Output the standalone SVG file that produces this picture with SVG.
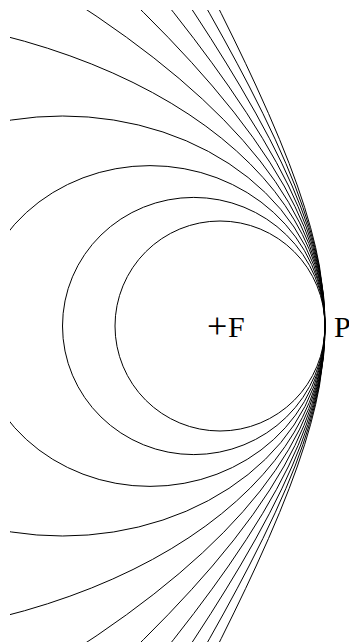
<svg xmlns="http://www.w3.org/2000/svg" width="349" height="643" viewBox="0 0 349 643">
<style>
.c{fill:none;stroke:#000;stroke-width:1}
.t{font-family:"Liberation Serif","Times New Roman",serif;font-size:30px;fill:#000}
</style>
<defs><clipPath id="clip"><rect x="10" y="10" width="339" height="632"/></clipPath></defs>
<rect width="349" height="643" fill="#fff"/>
<g id="conics" clip-path="url(#clip)">
<circle id="e00" class="c" cx="220" cy="326" r="105"/>
<ellipse id="e02" class="c" cx="193.75" cy="326" rx="131.25" ry="128.6"/>
<ellipse id="e04" class="c" cx="150" cy="326" rx="175" ry="160.39"/>
<ellipse id="e06" class="c" cx="62.5" cy="326" rx="262.5" ry="210"/>
<ellipse id="e08" class="c" cx="-200" cy="326" rx="525" ry="315"/>
<path id="e10" class="c" d="M65.71,-4 Q584.29,326 65.71,656"/>
<path id="e12" class="c" d="M116.28,-14 Q172.63,39.51 212.40,86 Q257.72,138.98 284.16,186 Q307.33,227.20 317.27,266 Q325,296.22 325,326 Q325,355.78 317.27,386 Q307.33,424.80 284.16,466 Q257.72,513.02 212.40,566 Q172.63,612.49 116.28,666"/>
<path id="e14" class="c" d="M152.39,-14 Q196.99,40.80 228.47,86 Q266.47,140.58 288.63,186 Q309.16,228.06 317.95,266 Q325,296.40 325,326 Q325,355.60 317.95,386 Q309.16,423.94 288.63,466 Q266.47,511.42 228.47,566 Q196.99,611.20 152.39,666"/>
<path id="e16" class="c" d="M176.38,-14 Q213.74,41.46 240.10,86 Q272.99,141.56 292.18,186 Q310.62,228.71 318.53,266 Q325,296.55 325,326 Q325,355.45 318.53,386 Q310.62,423.29 292.18,466 Q272.99,510.44 240.10,566 Q213.74,610.54 176.38,666"/>
<path id="e18" class="c" d="M193.89,-14 Q226.21,41.87 249.03,86 Q278.11,142.24 295.08,186 Q311.83,229.21 319.01,266 Q325,296.67 325,326 Q325,355.33 319.01,386 Q311.83,422.79 295.08,466 Q278.11,509.76 249.03,566 Q226.21,610.13 193.89,666"/>
<path id="e20" class="c" d="M207.38,-14 Q235.97,42.15 256.15,86 Q282.26,142.74 297.49,186 Q312.85,229.61 319.43,266 Q325,296.78 325,326 Q325,355.22 319.43,386 Q312.85,422.39 297.49,466 Q282.26,509.26 256.15,566 Q235.97,609.85 207.38,666"/>
</g>
<g id="labels">
<text id="F" class="t" x="207" y="337"><tspan font-size="36" dy="1">+</tspan><tspan x="228" dy="-1">F</tspan></text>
<text id="P" class="t" x="334" y="337">P</text>
</g>
</svg>
